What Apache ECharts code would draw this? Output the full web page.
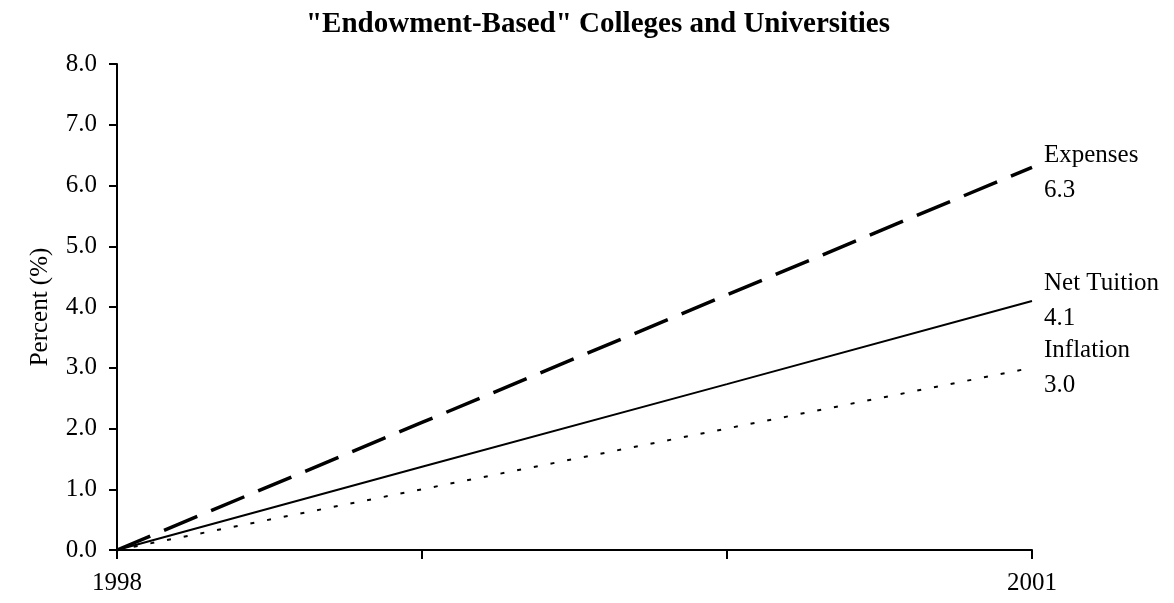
<!DOCTYPE html>
<html>
<head>
<meta charset="utf-8">
<title>"Endowment-Based" Colleges and Universities</title>
<script src="https://cdn.jsdelivr.net/npm/echarts@6/dist/echarts.min.js"></script>
<style>
  html, body { margin: 0; padding: 0; background: #fff; }
  #chart { width: 1174px; height: 603px; }
</style>
</head>
<body>
<div id="chart"></div>
<script>
// Cumulative percent change since 1998
const years = [1998, 1999, 2000, 2001];
const expenses = [0, 2.1, 4.2, 6.3];
const netTuition = [0, 1.37, 2.73, 4.1];
const inflation = [0, 1.0, 2.0, 3.0];
const yTicks = [0, 1, 2, 3, 4, 5, 6, 7, 8];
const xLabelYears = [1998, 2001];

const FONT = "'Liberation Serif', 'Times New Roman', serif";
const pairs = (vals) => years.map((y, i) => [y, vals[i]]);

function endLabel(name, dy) {
  return {
    show: true,
    distance: 12,
    offset: [0, dy || 0],
    fontFamily: FONT,
    fontSize: 25,
    lineHeight: 35,
    color: '#000',
    align: 'left',
    formatter: (p) => name + '\n' + p.value[1].toFixed(1)
  };
}

const chart = echarts.init(document.getElementById('chart'), null, { renderer: 'canvas' });
chart.setOption({
  backgroundColor: '#fff',
  animation: false,
  title: {
    text: '"Endowment-Based" Colleges and Universities',
    left: 593,
    top: 5,
    textAlign: 'center',
    textStyle: { fontFamily: FONT, fontWeight: 'bold', fontSize: 29, color: '#000' }
  },
  grid: { left: 117, right: 142, top: 64, bottom: 53, containLabel: false },
  xAxis: {
    type: 'value',
    min: years[0],
    max: years[years.length - 1],
    interval: 1,
    axisLine: { lineStyle: { color: '#000', width: 2 } },
    axisTick: { show: true, inside: false, length: 9, lineStyle: { color: '#000', width: 2 } },
    splitLine: { show: false },
    axisLabel: {
      margin: 21,
      fontFamily: FONT, fontSize: 25, color: '#000',
      formatter: (v) => (xLabelYears.includes(v) ? String(v) : '')
    }
  },
  yAxis: {
    type: 'value',
    min: yTicks[0],
    max: yTicks[yTicks.length - 1],
    interval: 1,
    name: 'Percent (%)',
    nameLocation: 'middle',
    nameGap: 64,
    nameTextStyle: { fontFamily: FONT, fontSize: 25, color: '#000' },
    axisLine: { show: true, lineStyle: { color: '#000', width: 2 } },
    axisTick: { show: true, inside: false, length: 8, lineStyle: { color: '#000', width: 2 } },
    splitLine: { show: false },
    axisLabel: {
      margin: 20,
      fontFamily: FONT, fontSize: 25, color: '#000',
      formatter: (v) => v.toFixed(1)
    }
  },
  series: [
    {
      name: 'Expenses',
      type: 'line',
      data: pairs(expenses),
      symbol: 'none',
      lineStyle: { color: '#000', width: 3.5, type: [36, 15] },
      endLabel: endLabel('Expenses', 6)
    },
    {
      name: 'Net Tuition',
      type: 'line',
      data: pairs(netTuition),
      symbol: 'none',
      lineStyle: { color: '#000', width: 2, type: 'solid' },
      endLabel: endLabel('Net Tuition', 0)
    },
    {
      name: 'Inflation',
      type: 'line',
      data: pairs(inflation),
      symbol: 'none',
      lineStyle: { color: '#000', width: 2, type: [4, 13] },
      endLabel: endLabel('Inflation', 0)
    }
  ]
});
</script>
</body>
</html>
